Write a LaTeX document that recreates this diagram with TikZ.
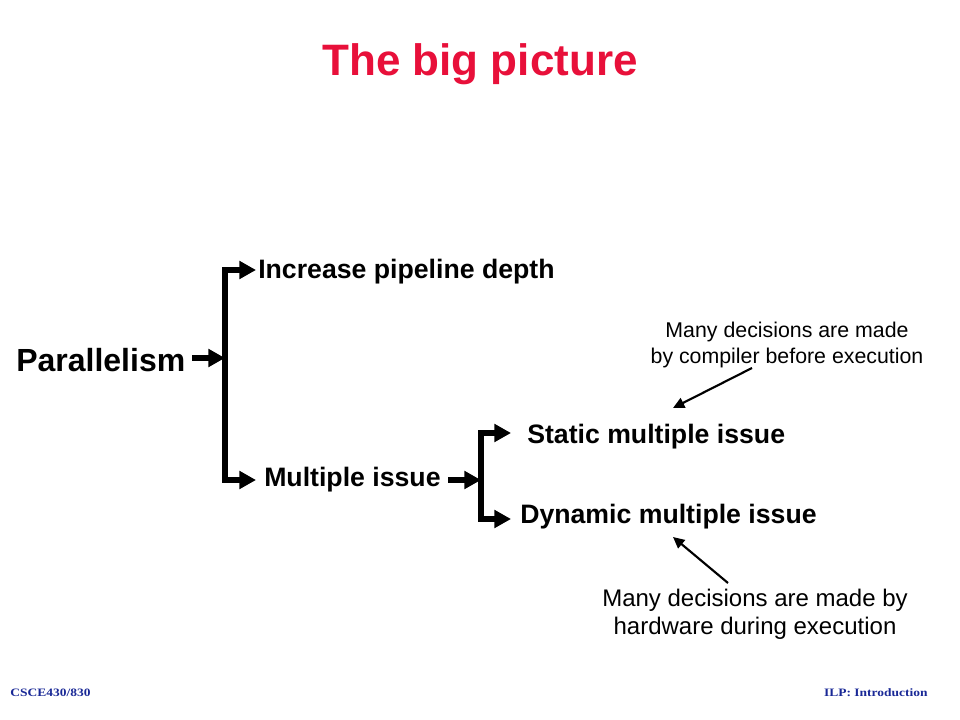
\documentclass[tikz,border=0pt]{standalone}
\usepackage{fontspec}
\setmainfont{Liberation Sans}
\newfontfamily\footfont{Liberation Serif}
\usetikzlibrary{arrows.meta}
\definecolor{titlered}{RGB}{232,16,58}
\definecolor{footblue}{RGB}{25,40,150}
\begin{document}
\begin{tikzpicture}[x=0.75pt,y=-0.75pt,
  lbl/.style={inner sep=0pt,anchor=west,font=\fontsize{20}{24}\selectfont\bfseries},
  note/.style={inner sep=0pt,align=center},
  brarrow/.style={line width=4pt,-{Triangle[length=12.5pt,width=13pt]}},
  notearrow/.style={line width=1.6pt,-{Triangle[length=8.5pt,width=8pt]}},
  foot/.style={inner sep=0pt,text=footblue,xscale=1.19,font=\footfont\fontsize{8.5}{10}\selectfont\bfseries}]
\useasboundingbox (0,0) rectangle (960,720);
\node[inner sep=0pt,text=titlered,font=\fontsize{33}{40}\selectfont\bfseries] (title) at (480,64) {The big picture};
\node[lbl,font=\fontsize{24}{28}\selectfont\bfseries] (par) at (16,360) {Parallelism};
\node[lbl] (inc) at (258,272) {Increase pipeline depth};
\node[lbl] (mul) at (264,480) {Multiple issue};
\node[lbl] (sta) at (527,437) {Static multiple issue};
\node[lbl] (dyn) at (520,517) {Dynamic multiple issue};
\node[note,font=\fontsize{16}{18.8}\selectfont] (n1) at (787,345) {Many decisions are made\\by compiler before execution};
\node[note,font=\fontsize{18}{21}\selectfont] (n2) at (755,614) {Many decisions are made by\\hardware during execution};
\node[foot,anchor=west] (f1) at (10,693) {CSCE430/830};
\node[foot,anchor=east] (f2) at (928,693) {ILP: Introduction};
% bracket 1
\coordinate (p0) at (192,358);
\coordinate (j1) at (225,358);
\coordinate (t1) at (256,270);
\coordinate (b1) at (256,480);
\draw[brarrow] (p0) -- (j1);
\draw[brarrow,line join=miter] (j1) |- (t1);
\draw[brarrow,line join=miter] (j1) |- (b1);
% bracket 2
\coordinate (m0) at (448,480);
\coordinate (j2) at (481,480);
\coordinate (t2) at (511,433);
\coordinate (b2) at (511,519);
\draw[brarrow] (m0) -- (j2);
\draw[brarrow,line join=miter] (j2) |- (t2);
\draw[brarrow,line join=miter] (j2) |- (b2);
% note arrows
\coordinate (a1s) at (752,368);
\coordinate (a1e) at (673,408);
\coordinate (a2s) at (728,583);
\coordinate (a2e) at (673,537);
\draw[notearrow] (a1s) -- (a1e);
\draw[notearrow] (a2s) -- (a2e);
\end{tikzpicture}
\end{document}
